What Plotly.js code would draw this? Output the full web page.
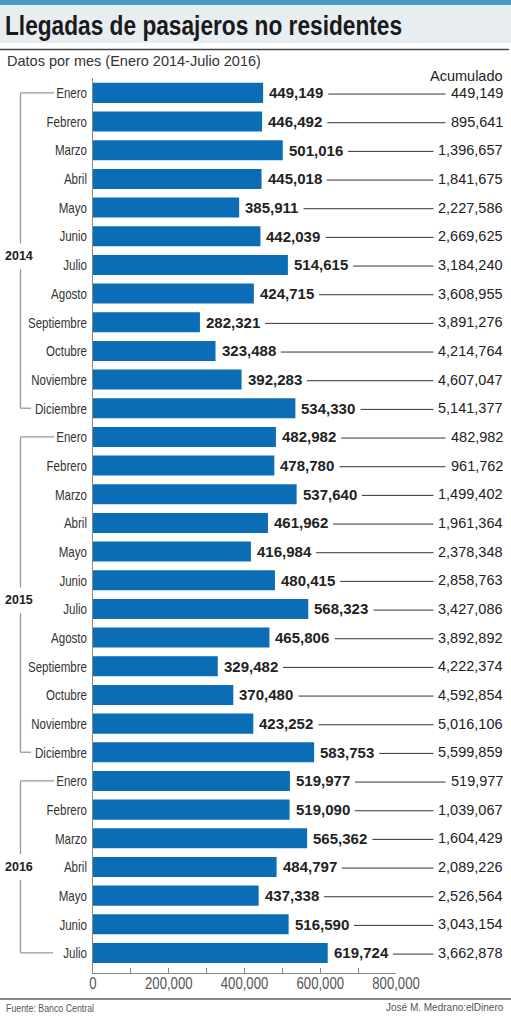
<!DOCTYPE html>
<html>
<head>
<meta charset="utf-8">
<script src="https://cdn.plot.ly/plotly-3.0.1.min.js"></script>
<style>
html,body{margin:0;padding:0;background:#fff;}
#chart{width:511px;height:1024px;}
</style>
</head>
<body>
<div id="chart"></div>
<script>
// ---- data ----
const months2014 = ["Enero","Febrero","Marzo","Abril","Mayo","Junio","Julio","Agosto","Septiembre","Octubre","Noviembre","Diciembre"];
const months2015 = ["Enero","Febrero","Marzo","Abril","Mayo","Junio","Julio","Agosto","Septiembre","Octubre","Noviembre","Diciembre"];
const months2016 = ["Enero","Febrero","Marzo","Abril","Mayo","Junio","Julio"];
const values2014 = [449149,446492,501016,445018,385911,442039,514615,424715,282321,323488,392283,534330];
const values2015 = [482982,478780,537640,461962,416984,480415,568323,465806,329482,370480,423252,583753];
const values2016 = [519977,519090,565362,484797,437338,516590,619724];
const cumulative2014 = [449149,895641,1396657,1841675,2227586,2669625,3184240,3608955,3891276,4214764,4607047,5141377];
const cumulative2015 = [482982,961762,1499402,1961364,2378348,2858763,3427086,3892892,4222374,4592854,5016106,5599859];
const cumulative2016 = [519977,1039067,1604429,2089226,2526564,3043154,3662878];
const years = ["2014","2015","2016"];

const titleText = "Llegadas de pasajeros no residentes";
const subtitleText = "Datos por mes (Enero 2014-Julio 2016)";
const cumHeader = "Acumulado";
const sourceText = "Fuente: Banco Central";
const creditText = "José M. Medrano:elDinero";

// ---- build ----
const categories = months2014.concat(months2015, months2016);
const values = values2014.concat(values2015, values2016);
const cumulative = cumulative2014.concat(cumulative2015, cumulative2016);
const idx = categories.map((_, i) => i);
const groups = [months2014.length, months2015.length, months2016.length];

const W = 511, H = 1024;
const L = 93, R = 396, T = 78, B = 973;
const px2x = p => (p - L) / (R - L);
const px2y = p => (B - p) / (B - T);

const SANS = "'Liberation Sans', Arial, sans-serif";

const cv = document.createElement('canvas').getContext('2d');
function textW(str, font){ cv.font = font; return cv.measureText(str).width; }

const fmt = v => v.toLocaleString('en-US');
const barColor = '#0b6db6';
const valSize = 15, cumSize = 14.5;

const annotations = [];
const shapes = [];
const condenseList = []; // [annotation index, factor, anchor]

values.forEach((v, i) => {
  const lbl = fmt(v);
  annotations.push({x: v, y: i, xref: 'x', yref: 'y', text: lbl, showarrow: false,
    xanchor: 'left', yanchor: 'middle', xshift: 4,
    font: {family: SANS, size: valSize, color: '#222', weight: 'bold'}});
  const c = fmt(cumulative[i]);
  annotations.push({x: px2x(505), y: i, xref: 'paper', yref: 'y', text: c, showarrow: false,
    xanchor: 'right', yanchor: 'middle', font: {family: SANS, size: cumSize, color: '#222'}});
  const barEndPx = L + v / 800000 * (R - L);
  const lblW = textW(lbl, 'bold ' + valSize + "px 'Liberation Sans', Arial");
  const cW = textW(c, cumSize + "px 'Liberation Sans', Arial");
  const x0 = barEndPx + 4 + lblW + 7;
  const x1 = 505 - cW - 7;
  shapes.push({type: 'line', xref: 'paper', yref: 'y', x0: px2x(x0), x1: px2x(x1), y0: i + 0.04, y1: i + 0.04,
    line: {color: '#333', width: 1}, layer: 'above'});
});

// year brackets
const yearPos = [5.7, 17.7, 27];
const endLen = [31, 31, 53];
let start = 0;
groups.forEach((n, g) => {
  const s = start, e = start + n - 1;
  const yl = yearPos[g];
  const lc = {color: '#9a9a9a', width: 1.3};
  shapes.push({type: 'line', xref: 'paper', yref: 'y', x0: px2x(20.5), x1: px2x(54), y0: s, y1: s, line: lc});
  shapes.push({type: 'line', xref: 'paper', yref: 'y', x0: px2x(20.5), x1: px2x(endLen[g]), y0: e, y1: e, line: lc});
  shapes.push({type: 'line', xref: 'paper', yref: 'y', x0: px2x(20.5), x1: px2x(20.5), y0: s, y1: yl - 0.45, line: lc});
  shapes.push({type: 'line', xref: 'paper', yref: 'y', x0: px2x(20.5), x1: px2x(20.5), y0: yl + 0.45, y1: e, line: lc});
  annotations.push({x: px2x(3), y: yl, xref: 'paper', yref: 'y', text: years[g], showarrow: false,
    xanchor: 'left', yanchor: 'middle', font: {family: SANS, size: 12.5, color: '#222', weight: 'bold'}});
  start += n;
});

// header / footer decorations
shapes.push({type: 'rect', xref: 'paper', yref: 'paper', x0: px2x(0), x1: px2x(W), y0: px2y(5), y1: px2y(0),
  fillcolor: '#4a9ac5', line: {width: 0}, layer: 'below'});
shapes.push({type: 'rect', xref: 'paper', yref: 'paper', x0: px2x(0), x1: px2x(W), y0: px2y(43), y1: px2y(5),
  fillcolor: '#e7edf1', line: {width: 0}, layer: 'below'});
shapes.push({type: 'line', xref: 'paper', yref: 'paper', x0: px2x(0), x1: px2x(509), y0: px2y(49.5), y1: px2y(49.5),
  line: {color: '#444', width: 1.5}});
shapes.push({type: 'line', xref: 'paper', yref: 'paper', x0: px2x(0), x1: px2x(W), y0: px2y(999), y1: px2y(999),
  line: {color: '#888', width: 2}});

condenseList.push([annotations.length, 0.84, 'start']);
annotations.push({x: px2x(3), y: px2y(26), xref: 'paper', yref: 'paper', text: titleText, showarrow: false,
  xanchor: 'left', yanchor: 'middle', font: {family: SANS, size: 27, color: '#1a1a1a', weight: 'bold'}});
annotations.push({x: px2x(5), y: px2y(61), xref: 'paper', yref: 'paper', text: subtitleText, showarrow: false,
  xanchor: 'left', yanchor: 'middle', font: {family: SANS, size: 14.5, color: '#333'}});
annotations.push({x: px2x(505), y: px2y(76), xref: 'paper', yref: 'paper', text: cumHeader, showarrow: false,
  xanchor: 'right', yanchor: 'middle', font: {family: SANS, size: 14.5, color: '#222'}});
condenseList.push([annotations.length, 0.8, 'start']);
annotations.push({x: px2x(4), y: px2y(1008), xref: 'paper', yref: 'paper', text: sourceText, showarrow: false,
  xanchor: 'left', yanchor: 'middle', font: {family: SANS, size: 11, color: '#555'}});
annotations.push({x: px2x(506), y: px2y(1008), xref: 'paper', yref: 'paper', text: creditText, showarrow: false,
  xanchor: 'right', yanchor: 'middle', font: {family: SANS, size: 10, color: '#555'}});

const trace = {type: 'bar', orientation: 'h', x: values, y: idx, marker: {color: barColor, line: {width: 0}},
  hoverinfo: 'none', cliponaxis: false};

const layout = {
  width: W, height: H,
  margin: {l: L, r: W - R, t: T, b: H - B, pad: 0},
  paper_bgcolor: '#fff', plot_bgcolor: '#fff',
  showlegend: false, bargap: 0.3,
  xaxis: {range: [0, 800000], tickmode: 'linear', tick0: 0, dtick: 200000, tickformat: ',',
    ticks: 'inside', ticklen: 5, tickcolor: '#888', tickwidth: 1,
    minor: {tick0: 0, dtick: 100000, ticks: 'inside', ticklen: 5, tickcolor: '#888', tickwidth: 1, showgrid: false},
    showline: true, linecolor: '#888', linewidth: 1, showgrid: false, zeroline: false,
    tickfont: {family: SANS, size: 16, color: '#555'}, ticklabelstandoff: -4, fixedrange: true},
  yaxis: {range: [30.7, -0.52], tickmode: 'array', tickvals: idx, ticktext: categories, ticks: '',
    showline: true, linecolor: '#888', linewidth: 1, showgrid: false, zeroline: false,
    tickfont: {family: SANS, size: 15, color: '#333'}, ticklabelstandoff: 2, fixedrange: true},
  annotations: annotations,
  shapes: shapes
};

const gd = document.getElementById('chart');

function squeeze(t, factor, anchor){
  const bb = t.getBBox();
  const w = t.getComputedTextLength();
  t.setAttribute('lengthAdjust', 'spacingAndGlyphs');
  t.setAttribute('textLength', (w * factor).toFixed(2));
  if (anchor === 'start') { t.setAttribute('text-anchor', 'start'); t.setAttribute('x', bb.x); }
  else if (anchor === 'end') { t.setAttribute('text-anchor', 'end'); t.setAttribute('x', bb.x + bb.width); }
}

Plotly.newPlot(gd, [trace], layout, {displayModeBar: false, staticPlot: true}).then(() => {
  gd.querySelectorAll('.ytick text').forEach(t => squeeze(t, 0.77, null));
  gd.querySelectorAll('.xtick text').forEach(t => squeeze(t, 0.82, null));
  condenseList.forEach(([k, f, a]) => {
    const t = gd.querySelector('.annotation[data-index="' + k + '"] text');
    if (t) squeeze(t, f, a);
  });
});
</script>
</body>
</html>
